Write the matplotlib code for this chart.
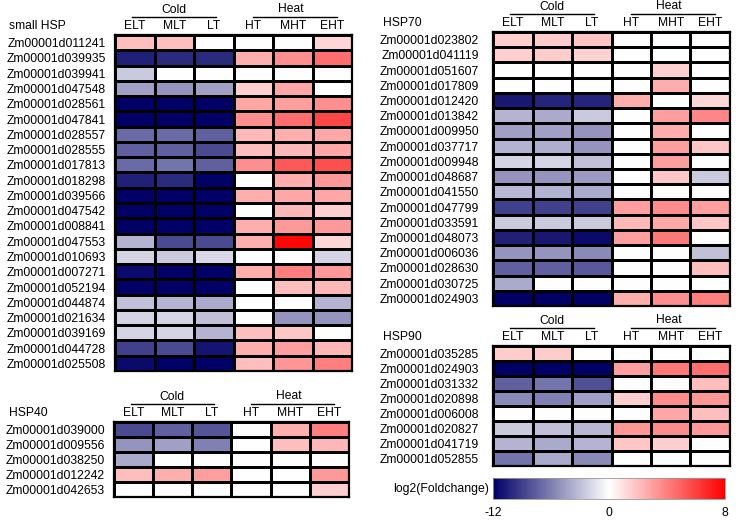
import numpy as np
import matplotlib
matplotlib.use("Agg")
import matplotlib.pyplot as plt
from matplotlib.colors import LinearSegmentedColormap, TwoSlopeNorm
from matplotlib.cm import ScalarMappable
from matplotlib.transforms import blended_transform_factory

plt.rcParams["font.family"] = ["Liberation Sans", "DejaVu Sans"]
plt.rcParams["axes.unicode_minus"] = False

# ── data ─────────────────────────────────────────────────────────────────────
conditions = ["ELT", "MLT", "LT", "HT", "MHT", "EHT"]

shsp_genes = ["Zm00001d011241", "Zm00001d039935", "Zm00001d039941", "Zm00001d047548",
              "Zm00001d028561", "Zm00001d047841", "Zm00001d028557", "Zm00001d028555",
              "Zm00001d017813", "Zm00001d018298", "Zm00001d039566", "Zm00001d047542",
              "Zm00001d008841", "Zm00001d047553", "Zm00001d010693", "Zm00001d007271",
              "Zm00001d052194", "Zm00001d044874", "Zm00001d021634", "Zm00001d039169",
              "Zm00001d044728", "Zm00001d025508"]
shsp_vals = [
    [2.0, 2.0, 0, 0, 0, 1.3],
    [-10.5, -10.0, -10.0, 2.5, 3.5, 4.5],
    [-2.5, 0, 0, 0, 0, 0],
    [-4.5, -5.0, -4.5, 1.5, 2.8, 0],
    [-12, -12, -12, 2.8, 3.0, 3.5],
    [-12, -12, -12, 3.5, 4.5, 5.8],
    [-7.0, -7.0, -7.5, 2.2, 2.5, 2.8],
    [-7.5, -7.5, -8.5, 2.0, 2.2, 2.8],
    [-7.0, -6.5, -7.5, 3.5, 5.2, 5.5],
    [-10.5, -10.0, -12, 0, 2.5, 3.2],
    [-12, -12, -12, 2.5, 2.8, 2.8],
    [-12, -12, -12, 0, 2.2, 1.5],
    [-12, -12, -12, 2.5, 3.2, 3.2],
    [-3.5, -8.5, -8.5, 2.5, 7.8, 1.3],
    [-2.0, -2.5, -1.8, 0, 0, -2.0],
    [-11.5, -12, -12, 2.5, 4.0, 3.2],
    [-12, -12, -12, 0, 2.0, 2.2],
    [-3.0, -3.5, -4.0, 0, 0, -3.5],
    [-2.0, -2.0, -3.0, 0, -5.0, -5.0],
    [-2.0, -2.0, -3.5, 2.0, 1.8, 0],
    [-9.0, -8.5, -11.0, 2.5, 3.0, 2.3],
    [-11.5, -12, -12, 2.0, 3.3, 4.0],
]

hsp40_genes = ["Zm00001d039000", "Zm00001d009556", "Zm00001d038250",
               "Zm00001d012242", "Zm00001d042653"]
hsp40_vals = [
    [-8.5, -7.5, -8.0, 0, 2.5, 4.0],
    [-5.0, -4.5, -6.0, 0, 2.0, 2.3],
    [-4.0, 0, 0, 0, 0, 0],
    [2.0, 2.5, 3.0, 0, 0, 3.2],
    [0, 0, 0, 0, 0, 1.5],
]

hsp70_genes = ["Zm00001d023802", "Zm00001d041119", "Zm00001d051607", "Zm00001d017809",
               "Zm00001d012420", "Zm00001d013842", "Zm00001d009950", "Zm00001d037717",
               "Zm00001d009948", "Zm00001d048687", "Zm00001d041550", "Zm00001d047799",
               "Zm00001d033591", "Zm00001d048073", "Zm00001d006036", "Zm00001d028630",
               "Zm00001d030725", "Zm00001d024903"]
hsp70_vals = [
    [1.5, 1.6, 1.8, 0, 0, 0],
    [1.5, 1.6, 1.4, 0, 0, 0],
    [0, 0, 0, 0, 1.5, 0],
    [0, 0, 0, 0, 2.6, 0],
    [-10.8, -10.3, -10.3, 2.5, 0, 1.3],
    [-3.5, -4.0, -2.5, 0, 3.0, 3.8],
    [-4.5, -4.5, -5.0, 0, 2.6, 0],
    [-3.5, -3.8, -5.0, 0, 3.0, 1.8],
    [-2.0, -2.0, -3.0, 0, 3.0, 0],
    [-5.0, -5.0, -4.7, 0, 1.8, -2.5],
    [-3.3, -3.6, -4.0, 0, 0, 0],
    [-9.0, -9.0, -9.0, 3.0, 3.6, 3.0],
    [-2.5, -2.5, -2.5, 2.2, 2.7, 1.8],
    [-10.5, -10.8, -11.5, 3.0, 4.2, 0],
    [-5.0, -5.0, -5.5, 0, 0, -3.0],
    [-7.5, -7.5, -7.8, 0, 0, 2.0],
    [-4.0, 0, 0, 0, 0, 0],
    [-12, -12, -12, 2.5, 3.5, 4.0],
]

hsp90_genes = ["Zm00001d035285", "Zm00001d024903", "Zm00001d031332", "Zm00001d020898",
               "Zm00001d006008", "Zm00001d020827", "Zm00001d041719", "Zm00001d052855"]
hsp90_vals = [
    [1.6, 1.6, 0, 0, 0, 0],
    [-12, -12, -12, 3.0, 4.2, 4.5],
    [-7.5, -6.5, -8.2, 0, 0, 2.0],
    [-5.5, -6.0, -4.5, 1.5, 3.6, 3.3],
    [0, 0, 0, 0, 2.8, 2.0],
    [-2.5, -3.0, -3.3, 3.3, 3.6, 3.2],
    [-3.5, -4.0, -3.5, 1.8, 1.5, 0],
    [-6.5, -4.0, -5.5, 0, 0, 0],
]

cbar_ticks = [-12, 0, 8]

# ── style ─────────────────────────────────────────────────────────────────────
W, H = 740, 520
FS = 8.7
cmap = LinearSegmentedColormap.from_list("fc", ["#000066", "#ffffff", "#ff0000"])
norm = TwoSlopeNorm(vmin=-12, vcenter=0, vmax=8)

fig = plt.figure(figsize=(W / 100, H / 100), dpi=100)
fig.patch.set_facecolor("white")


def px_axes(x0, y0, x1, y1):
    # pixel box (top-left origin) -> figure fraction axes
    return fig.add_axes([x0 / W, 1 - y1 / H, (x1 - x0) / W, (y1 - y0) / H])


def heatmap(box, title, genes, vals, title_x, pad):
    x0, y0, x1, y1 = box
    ax = px_axes(*box)
    ax.pcolormesh(np.array(vals), cmap=cmap, norm=norm,
                  edgecolors="black", linewidth=1.0)
    ax.set_xlim(0, 6)
    ax.set_ylim(len(genes), 0)
    ax.set_xticks([])
    ax.set_yticks(np.arange(len(genes)) + 0.5, genes, fontsize=FS)
    ax.tick_params(axis="y", length=0, pad=pad)
    for s in ax.spines.values():
        s.set_linewidth(1.6)

    h = y1 - y0
    tr = blended_transform_factory(ax.transData, ax.transAxes)
    for i, c in enumerate(conditions):
        ax.text(i + 0.5, 1 + 9 / h, c, transform=tr, ha="center", va="center",
                fontsize=FS)
    ax.text(1.49, 1 + 25 / h, "Cold", transform=tr, ha="center", va="center",
            fontsize=FS)
    ax.text(4.46, 1 + 26 / h, "Heat", transform=tr, ha="center", va="center",
            fontsize=FS)
    ax.plot([0.43, 2.56], [1 + 18 / h] * 2, transform=tr, color="black",
            lw=1.0, clip_on=False)
    ax.plot([3.49, 5.62], [1 + 18 / h] * 2, transform=tr, color="black",
            lw=1.0, clip_on=False)
    fig.text(title_x / W, 1 - (y0 - 9) / H, title, ha="left", va="center",
             fontsize=FS)
    return ax


heatmap((115, 35, 352, 371), "small HSP", shsp_genes, shsp_vals, 9, 6.5)
heatmap((114, 422, 349, 497), "HSP40", hsp40_genes, hsp40_vals, 9, 6.5)
heatmap((493, 32, 730, 306), "HSP70", hsp70_genes, hsp70_vals, 383, 10)
heatmap((493, 346, 730, 466), "HSP90", hsp90_genes, hsp90_vals, 383, 10)

# --- colour bar --------------------------------------------------------------
cax = px_axes(493, 478, 725, 499)
cb = fig.colorbar(ScalarMappable(norm=norm, cmap=cmap), cax=cax,
                  orientation="horizontal", ticks=cbar_ticks)
cb.outline.set_linewidth(0.6)
cb.outline.set_edgecolor("#999999")
cb.ax.tick_params(length=0, labelsize=8.8, pad=6)
fig.text(489 / W, 1 - 489 / H, "log2(Foldchange)", ha="right", va="center",
         fontsize=8.8)

fig.savefig("out.png", dpi=100, facecolor="white")
